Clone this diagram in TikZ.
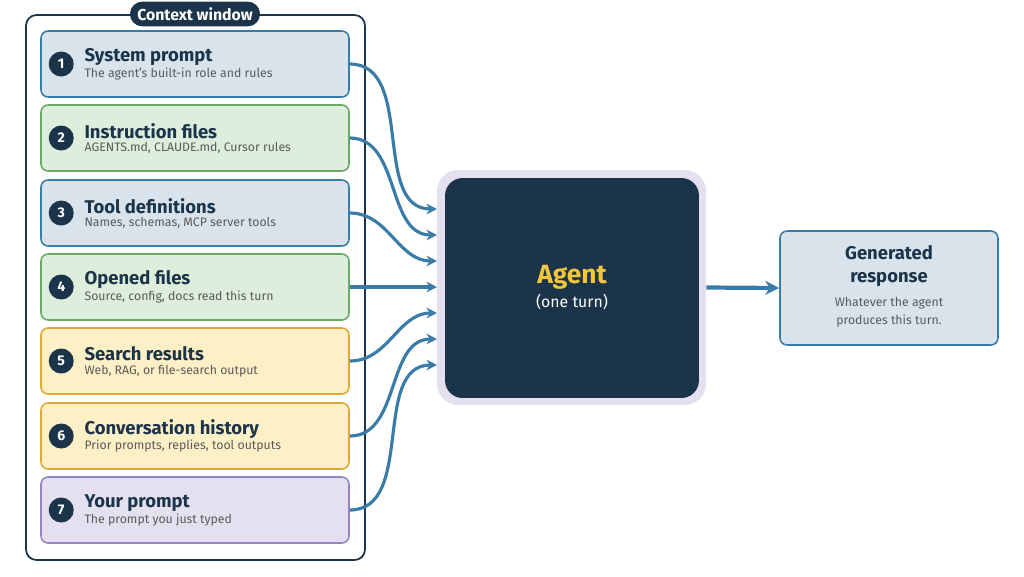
\documentclass[tikz,border=0pt]{standalone}
\usepackage{fontspec}
\setmainfont{Fira Sans}
\usetikzlibrary{arrows.meta, positioning}
\definecolor{navy}{HTML}{1B3449}
\definecolor{steel}{HTML}{3A7CA8}
\definecolor{bluefill}{HTML}{D8E3EC}
\definecolor{greenfill}{HTML}{DDEEDC}
\definecolor{greenline}{HTML}{6AAA66}
\definecolor{yellowfill}{HTML}{FDF0C6}
\definecolor{yellowline}{HTML}{E0A836}
\definecolor{lavfill}{HTML}{E5E0EF}
\definecolor{lavline}{HTML}{9484C2}
\definecolor{subgray}{HTML}{5A5A5A}
\definecolor{gold}{HTML}{F2C53D}
\tikzset{
  flow/.style = {draw=steel, line width=1.8pt, -{Stealth[length=6pt,width=6pt]}},
  ctxbox/.style = {rectangle, rounded corners=4pt, minimum width=6.16cm, minimum height=1.32cm, line width=0.9pt},
  numdot/.style = {circle, fill=navy, text=white, font=\footnotesize\bfseries, minimum size=0.5cm, inner sep=0pt},
  boxtitle/.style = {anchor=west, font=\fontsize{10.5}{12}\selectfont\bfseries, text=navy, inner sep=0pt},
  boxsub/.style = {anchor=west, font=\fontsize{7}{8}\selectfont, text=subgray, inner sep=0pt}
}
\begin{document}
\begin{tikzpicture}[x=0.02cm, y=-0.02cm]
    \useasboundingbox (0,0) rectangle (1024,576);
    % Context window frame
    \draw[navy, line width=1pt, rounded corners=6pt] (26,15) rectangle (365,560);
    \node[fill=navy, text=white, rounded corners=7pt, font=\small\bfseries, minimum height=0.42cm, minimum width=2.6cm] (ctx) at (195,14) {Context window};

    % Context boxes
    \node[ctxbox, fill=bluefill, draw=steel] (b1) at (195,64) {};
    \node[ctxbox, fill=greenfill, draw=greenline] (b2) at (195,138) {};
    \node[ctxbox, fill=bluefill, draw=steel] (b3) at (195,213) {};
    \node[ctxbox, fill=greenfill, draw=greenline] (b4) at (195,287) {};
    \node[ctxbox, fill=yellowfill, draw=yellowline] (b5) at (195,361) {};
    \node[ctxbox, fill=yellowfill, draw=yellowline] (b6) at (195,436) {};
    \node[ctxbox, fill=lavfill, draw=lavline] (b7) at (195,510) {};

    % Numbers, titles, subtitles
    \foreach \i/\t/\s in {1/System prompt/The agent's built-in role and rules,
                          2/Instruction files/{AGENTS.md, CLAUDE.md, Cursor rules},
                          3/Tool definitions/{Names, schemas, MCP server tools},
                          4/Opened files/{Source, config, docs read this turn},
                          5/Search results/{Web, RAG, or file-search output},
                          6/Conversation history/{Prior prompts, replies, tool outputs},
                          7/Your prompt/The prompt you just typed} {
        \node[numdot] (n\i) at ([xshift=0.42cm]b\i.west) {\i};
        \node[boxtitle] (t\i) at ([xshift=0.88cm, yshift=0.14cm]b\i.west) {\t};
        \node[boxsub] (s\i) at ([xshift=0.88cm, yshift=-0.2cm]b\i.west) {\s};
    }

    % Agent
    \node[rectangle, rounded corners=12pt, fill=lavfill, minimum width=5.38cm, minimum height=4.7cm] (agentbg) at (571.5,287.5) {};
    \node[rectangle, rounded corners=10pt, fill=navy, minimum width=5.08cm, minimum height=4.4cm] (agent) at (572,288) {};
    \node[font=\fontsize{15}{18}\selectfont\bfseries, text=gold] (agtitle) at (572,277) {Agent};
    \node[font=\small, text=white] (agsub) at (572,302) {(one turn)};

    % Entry points on the agent
    \foreach \i/\y in {1/209,2/235,3/261,4/287,5/313,6/339,7/365}
        \coordinate (in\i) at (437,\y);

    % Arrows into the agent
    \foreach \i in {1,...,7}
        \draw[flow] (b\i.east) to[out=0, in=180] (in\i);

    % Output
    \node[rectangle, rounded corners=4pt, fill=bluefill, draw=steel, line width=0.9pt, minimum width=4.36cm, minimum height=2.28cm] (resp) at (889,288) {};
    \node[font=\fontsize{10.5}{13}\selectfont\bfseries, text=navy, align=center] (resptitle) at (889,266) {Generated\\response};
    \node[font=\fontsize{7}{10}\selectfont, text=subgray, align=center] (respsub) at (889,312) {Whatever the agent\\produces this turn.};
    \draw[draw=steel, line width=2.4pt, -{Stealth[length=8pt,width=8pt]}] (agentbg.east) -- (resp.west);
\end{tikzpicture}
\end{document}
